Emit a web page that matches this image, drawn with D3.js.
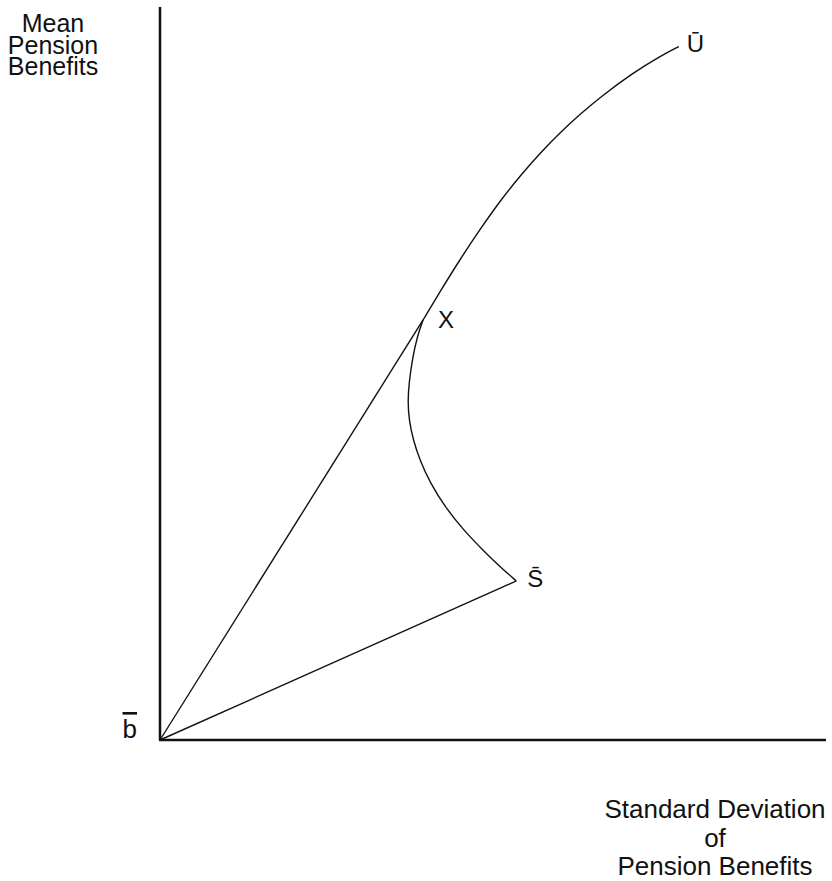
<!DOCTYPE html>
<html>
<head>
<meta charset="utf-8">
<script src="https://cdn.jsdelivr.net/npm/d3@7"></script>
<style>
  body { margin: 0; background: #fff; }
  svg text { font-family: "Liberation Sans", Arial, Helvetica, sans-serif; fill: #111; }
</style>
</head>
<body>
<svg id="chart" width="832" height="881"></svg>
<script>
// points in abstract units (0-100 on both axes)
var pointB = [0, 0];
var pointX = [39.5, 57.3];
var pointS = [53.5, 21.7];
var pointU = [77.9, 94.6];

// upper frontier X -> U
var upperCurve = [
	[39.5, 57.3], [42.0, 61.1], [45.0, 65.5], [48.0, 69.6], [51.1, 73.6],
	[54.1, 77.0], [57.1, 80.1], [60.1, 82.9], [63.1, 85.4], [66.1, 87.7],
	[71.0, 91.0], [75.1, 93.3], [77.9, 94.6]
];

// bowed curve X -> S
var lowerCurve = [
	[39.5, 57.3], [38.6, 55.0], [37.9, 52.0], [37.4, 48.8],
	[37.2, 46.2], [37.4, 43.6], [38.0, 41.0], [39.0, 38.2],
	[40.6, 35.0], [42.8, 31.8], [45.6, 28.6], [48.6, 25.8],
	[51.1, 23.6], [53.5, 21.7]
];

var pointLabels = [
	{name: "X", at: pointX},
	{name: "\u016A", at: pointU},
	{name: "S\u0304", at: pointS},
	{name: "b", at: pointB}
];
var yTitle = ["Mean", "Pension", "Benefits"];
var xTitle = ["Standard Deviation", "of", "Pension Benefits"];

var svg = d3.select("#chart");

var x = d3.scaleLinear().domain([0, 100]).range([160, 826]);
var y = d3.scaleLinear().domain([0, 100]).range([740, 7]);

// axes
svg.append("line")
	.attr("x1", x(0)).attr("y1", y(0))
	.attr("x2", x(0)).attr("y2", y(100))
	.attr("stroke", "#111").attr("stroke-width", 2.5);
svg.append("line")
	.attr("x1", x(0) - 1).attr("y1", y(0))
	.attr("x2", x(100)).attr("y2", y(0))
	.attr("stroke", "#111").attr("stroke-width", 2.5);

var line = d3.line()
	.x(function(d) { return x(d[0]); })
	.y(function(d) { return y(d[1]); });

var curveLine = d3.line()
	.x(function(d) { return x(d[0]); })
	.y(function(d) { return y(d[1]); })
	.curve(d3.curveBasis);

// rays from b
svg.append("path").attr("d", line([pointB, pointX]))
	.attr("fill", "none").attr("stroke", "#111").attr("stroke-width", 1.4);
svg.append("path").attr("d", line([pointB, pointS]))
	.attr("fill", "none").attr("stroke", "#111").attr("stroke-width", 1.4);

svg.append("path").attr("d", curveLine(upperCurve))
	.attr("fill", "none").attr("stroke", "#111").attr("stroke-width", 1.4);
svg.append("path").attr("d", curveLine(lowerCurve))
	.attr("fill", "none").attr("stroke", "#111").attr("stroke-width", 1.4);

// point labels
var offsets = {"X": [15, 8, "start", 24], "\u016A": [8, 5, "start", 24], "S\u0304": [11, 6, "start", 24], "b": [-23, -2, "end", 26]};
svg.selectAll(".plabel")
	.data(pointLabels)
	.enter().append("text")
	.attr("class", "plabel")
	.attr("x", function(d) { return x(d.at[0]) + offsets[d.name][0]; })
	.attr("y", function(d) { return y(d.at[1]) + offsets[d.name][1]; })
	.attr("text-anchor", function(d) { return offsets[d.name][2]; })
	.style("font-size", function(d) { return offsets[d.name][3] + "px"; })
	.style("text-decoration", function(d) { return d.name === "b" ? "overline" : null; })
	.text(function(d) { return d.name; });

// axis titles, one text each with a line per tspan
var yt = svg.append("text")
	.attr("text-anchor", "middle")
	.style("font-size", "25px");
yt.selectAll("tspan")
	.data(yTitle)
	.enter().append("tspan")
	.attr("x", 53)
	.attr("y", function(d, i) { return 32 + i * 21.5; })
	.text(function(d) { return d; });

var xt = svg.append("text")
	.attr("text-anchor", "middle")
	.style("font-size", "26px");
xt.selectAll("tspan")
	.data(xTitle)
	.enter().append("tspan")
	.attr("x", 715)
	.attr("y", function(d, i) { return 818 + i * 28.5; })
	.text(function(d) { return d; });
</script>
</body>
</html>
